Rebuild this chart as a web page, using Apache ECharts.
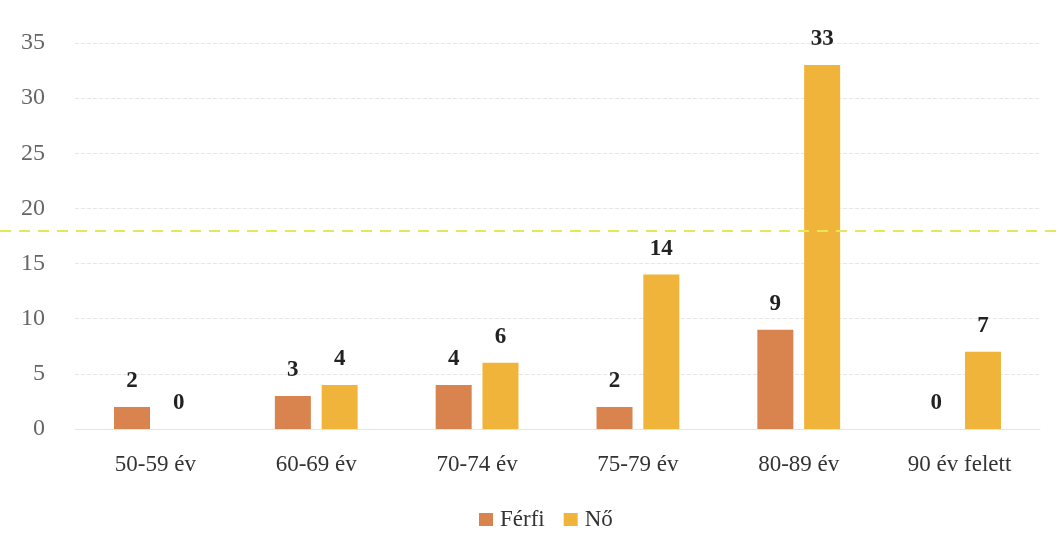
<!DOCTYPE html>
<html><head><meta charset="utf-8">
<script src="https://cdn.jsdelivr.net/npm/echarts@6/dist/echarts.min.js"></script>
<style>html,body{margin:0;padding:0;background:#fff}#c{width:1059px;height:555px}</style>
</head><body><div id="c"></div>
<script>
const categories = ['50-59 év','60-69 év','70-74 év','75-79 év','80-89 év','90 év felett'];
const ferfi = [2,3,4,2,9,0];
const no = [0,4,6,14,33,7];
const refLine = 18;
const yTicks = {min:0, max:35, interval:5};

const FONT = 'Liberation Serif';
const chart = echarts.init(document.getElementById('c'), null, {renderer:'canvas'});
chart.setOption({
  backgroundColor:'#fff',
  animation:false,
  textStyle:{fontFamily:FONT},
  legend:{
    bottom:19, left:474, itemWidth:14, itemHeight:13, itemGap:19,
    icon:'rect',
    textStyle:{fontFamily:FONT, fontSize:23, color:'#333', padding:[0,0,0,2]},
    data:['Férfi','Nő']
  },
  grid:[
    {left:75, right:19, top:43, bottom:126},
    {left:0, right:0, top:43, bottom:126}
  ],
  xAxis:[
    {type:'category', data:categories, gridIndex:0,
     axisTick:{show:false},
     axisLine:{lineStyle:{color:'#e4e4e4'}},
     axisLabel:{fontFamily:FONT, fontSize:23, color:'#333', margin:24}},
    {type:'category', data:[''], gridIndex:1, show:false}
  ],
  yAxis:[
    {type:'value', gridIndex:0, min:yTicks.min, max:yTicks.max, interval:yTicks.interval,
     axisLabel:{fontFamily:FONT, fontSize:24, color:'#666', margin:30, align:'right'},
     splitLine:{lineStyle:{color:'#e6e6e6', type:[4,2]}},
     axisLine:{show:false}, axisTick:{show:false}},
    {type:'value', gridIndex:1, min:yTicks.min, max:yTicks.max, show:false, splitLine:{show:false}}
  ],
  series:[
    {name:'Férfi', type:'bar', data:ferfi, barWidth:36, barGap:'30%',
     itemStyle:{color:'#d9834f'},
     label:{show:true, position:'top', distance:14, fontFamily:FONT, fontSize:23, fontWeight:'bold', color:'#222'}},
    {name:'Nő', type:'bar', data:no, barWidth:36, barGap:'30%',
     itemStyle:{color:'#f0b43a'},
     label:{show:true, position:'top', distance:14, fontFamily:FONT, fontSize:23, fontWeight:'bold', color:'#222'}},
    {name:'ref', type:'line', xAxisIndex:1, yAxisIndex:1, data:[], silent:true,
     markLine:{symbol:'none', silent:true, label:{show:false},
       lineStyle:{color:'#e6e65a', type:[11,8], width:2},
       data:[{yAxis:refLine}]}}
  ]
});
</script>
</body></html>
